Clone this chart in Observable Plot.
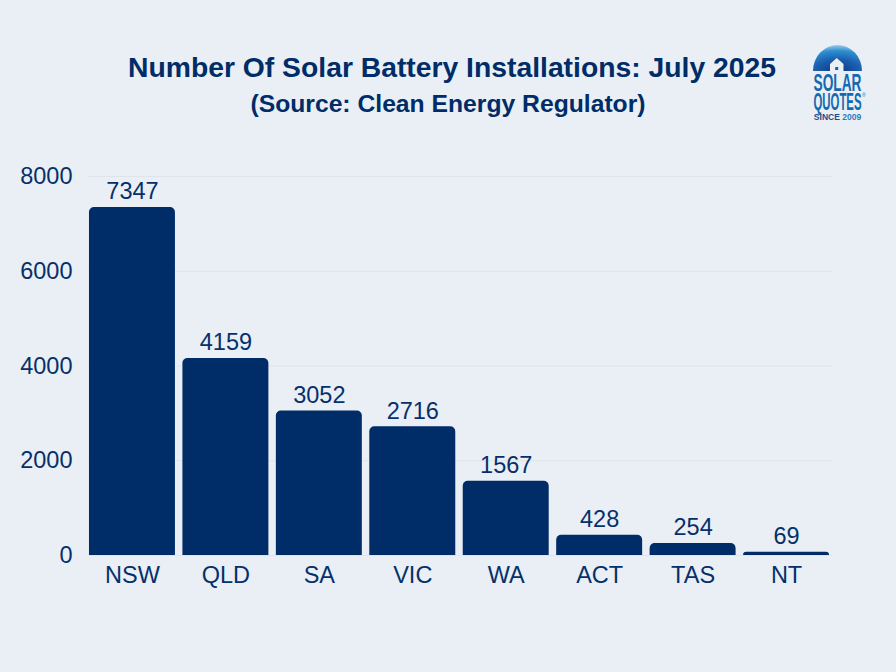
<!DOCTYPE html>
<html><head><meta charset="utf-8">
<script src="https://cdn.jsdelivr.net/npm/d3@7"></script>
<script src="https://cdn.jsdelivr.net/npm/@observablehq/plot@0.6"></script>
<style>
html,body{margin:0;padding:0;background:#e9eff4;width:896px;height:672px;overflow:hidden}
body{font-family:"Liberation Sans",Arial,sans-serif;color:#002c67;position:relative}
#head{position:absolute;left:0;top:0;width:896px;height:130px;text-align:center;font-weight:700}
#t1{position:absolute;left:4px;width:896px;top:50px;font-size:28.3px;line-height:34px}
#t2{position:absolute;left:0;width:896px;top:90px;font-size:24.7px;line-height:28px}
#chart{position:absolute;left:0;top:130px}
#logo{position:absolute;left:805px;top:40px;overflow:visible}
svg{display:block}
</style></head><body>
<div id="head">
<div id="t1">Number Of Solar Battery Installations: July 2025</div>
<div id="t2">(Source: Clean Energy Regulator)</div>
</div>
<svg id="logo" width="66" height="84" viewBox="0 0 66 84">
<defs><radialGradient id="g" cx="50%" cy="100%" r="100%"><stop offset="0" stop-color="#12357f"/><stop offset="0.45" stop-color="#1a5fae"/><stop offset="0.78" stop-color="#2f8fd0"/><stop offset="1" stop-color="#9ccbea"/></radialGradient></defs>
<path d="M8 31 A24.5 26 0 0 1 57 31 Z" fill="url(#g)"/>
<path d="M31.7 18 L38.5 24 V31 H25 V24 Z" fill="#e9eff4"/>
<rect x="30.2" y="27" width="3" height="3" fill="#1c5fa8"/>
<text transform="translate(32.5 51) scale(0.571 1)" text-anchor="middle" font-family="Liberation Sans" font-weight="700" font-size="24" fill="#1569b0">SOLAR</text>
<text transform="translate(32.5 69.5) scale(0.475 1)" text-anchor="middle" font-family="Liberation Sans" font-weight="700" font-size="24" fill="#1569b0">QUOTES</text>
<text x="57" y="57" font-family="Liberation Sans" font-size="5" fill="#1569b0">®</text>
<text x="32.5" y="79.5" text-anchor="middle" font-family="Liberation Sans" font-weight="700" font-size="8.5"><tspan fill="#1d4a8c">SINCE </tspan><tspan fill="#2b7cc4">2009</tspan></text>
</svg>
<div id="chart"></div>
<script>
const states = ["NSW","QLD","SA","VIC","WA","ACT","TAS","NT"];
const installs = [7347,4159,3052,2716,1567,428,254,69];
const yTicks = [0,2000,4000,6000,8000];
const table = states.map((s,i)=>({state:s,value:installs[i]}));
const navy = "#002c67";
const ink = "#06306b";
const plot = Plot.plot({
  width:896, height:542,
  marginTop:46, marginBottom:117, marginLeft:81.5, marginRight:59.5,
  style:{background:"transparent",fontFamily:"'Liberation Sans',Arial,sans-serif",color:ink},
  x:{domain:states,padding:0.08,round:false,label:null,tickSize:0},
  y:{domain:[0,8000],label:null,ticks:yTicks},
  marks:[
    Plot.gridY(yTicks,{stroke:"#dde4eb",strokeOpacity:1,strokeWidth:1,insetLeft:7,insetRight:4}),
    Plot.axisY(yTicks,{tickSize:0,tickPadding:9.5,fontSize:23.5,fill:ink,label:null,tickFormat:d3.format("d")}),
    Plot.axisX({tickSize:0,tickPadding:11,fontSize:23.5,fill:ink,label:null}),
    Plot.barY(table,{x:"state",y:"value",fill:navy,ry1:5,rx:5}),
    Plot.text(table,{x:"state",y:"value",text:d=>String(d.value),dy:-15.5,fontSize:23.5,fill:ink})
  ]
});
document.getElementById("chart").appendChild(plot);
</script>
</body></html>
